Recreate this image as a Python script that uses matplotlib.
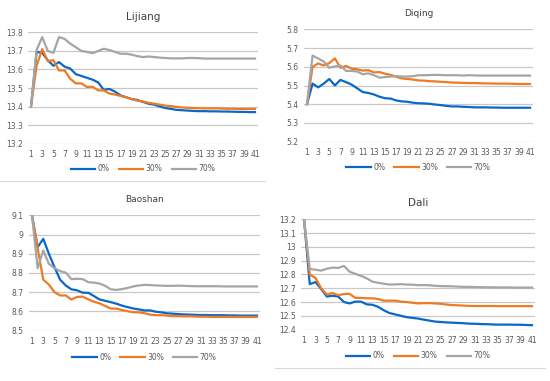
import numpy as np
import matplotlib
matplotlib.use('Agg')
import matplotlib.pyplot as plt
from matplotlib.lines import Line2D

x = np.arange(1, 42)
labels = ['0%', '30%', '70%']
colors = ['#0A68C8', '#F07A22', '#A5A5A5']

# Lijiang
lij_0 = [13.40, 13.695, 13.69, 13.65, 13.62, 13.64, 13.615, 13.605, 13.575, 13.565,
         13.555, 13.545, 13.53, 13.49, 13.495, 13.48, 13.46, 13.45, 13.44, 13.435,
         13.425, 13.415, 13.41, 13.40, 13.392, 13.387, 13.382, 13.38, 13.378, 13.376,
         13.375, 13.375, 13.374, 13.374, 13.373, 13.373, 13.372, 13.371, 13.371, 13.370, 13.370]
lij_30 = [13.40, 13.62, 13.71, 13.645, 13.65, 13.595, 13.595, 13.55, 13.525, 13.525,
          13.505, 13.507, 13.487, 13.487, 13.47, 13.465, 13.457, 13.45, 13.44, 13.432,
          13.427, 13.42, 13.415, 13.41, 13.405, 13.402, 13.398, 13.395, 13.393, 13.392,
          13.391, 13.390, 13.390, 13.390, 13.389, 13.388, 13.388, 13.387, 13.387, 13.387, 13.387]
lij_70 = [13.40, 13.705, 13.775, 13.70, 13.69, 13.775, 13.765, 13.74, 13.72, 13.70,
          13.695, 13.688, 13.70, 13.712, 13.705, 13.695, 13.685, 13.685, 13.68, 13.672,
          13.667, 13.67, 13.667, 13.664, 13.662, 13.66, 13.66, 13.66, 13.662, 13.662,
          13.661, 13.659, 13.659, 13.659, 13.659, 13.659, 13.659, 13.659, 13.659, 13.659, 13.659]

# Diqing
diq_0 = [5.40, 5.51, 5.49, 5.51, 5.535, 5.50, 5.53, 5.518, 5.505, 5.485,
         5.465, 5.46, 5.452, 5.44, 5.432, 5.43, 5.42, 5.415, 5.413, 5.408,
         5.405, 5.404, 5.402, 5.398, 5.395, 5.391, 5.388, 5.388, 5.386, 5.385,
         5.383, 5.383, 5.383, 5.382, 5.382, 5.381, 5.381, 5.381, 5.381, 5.381, 5.381]
diq_30 = [5.40, 5.60, 5.618, 5.607, 5.62, 5.645, 5.595, 5.605, 5.59, 5.587,
          5.58, 5.582, 5.57, 5.572, 5.563, 5.557, 5.547, 5.538, 5.535, 5.532,
          5.527, 5.526, 5.523, 5.522, 5.52, 5.518, 5.516, 5.515, 5.514, 5.513,
          5.513, 5.512, 5.511, 5.511, 5.510, 5.510, 5.510, 5.509, 5.508, 5.508, 5.508]
diq_70 = [5.40, 5.66, 5.645, 5.628, 5.595, 5.602, 5.607, 5.578, 5.578, 5.575,
          5.56, 5.565, 5.555, 5.542, 5.545, 5.548, 5.55, 5.548, 5.548, 5.55,
          5.555, 5.555, 5.556, 5.557, 5.556, 5.555, 5.555, 5.555, 5.553, 5.555,
          5.554, 5.553, 5.553, 5.553, 5.553, 5.553, 5.553, 5.553, 5.553, 5.553, 5.553]

# Baoshan
bao_0 = [9.10, 8.935, 8.978, 8.90, 8.83, 8.765, 8.735, 8.715, 8.71, 8.697,
         8.697, 8.68, 8.662, 8.655, 8.648, 8.64, 8.63, 8.622, 8.615, 8.61,
         8.605, 8.605, 8.598, 8.595, 8.59, 8.588, 8.586, 8.584, 8.583, 8.582,
         8.581, 8.581, 8.580, 8.580, 8.580, 8.579, 8.579, 8.578, 8.578, 8.578, 8.578]
bao_30 = [9.10, 8.93, 8.765, 8.74, 8.70, 8.683, 8.683, 8.662, 8.675, 8.677,
          8.663, 8.65, 8.642, 8.628, 8.615, 8.614, 8.607, 8.601, 8.595, 8.595,
          8.59, 8.583, 8.58, 8.58, 8.578, 8.575, 8.575, 8.574, 8.574, 8.573,
          8.572, 8.572, 8.571, 8.571, 8.571, 8.571, 8.571, 8.571, 8.571, 8.571, 8.571]
bao_70 = [9.10, 8.825, 8.918, 8.848, 8.825, 8.81, 8.802, 8.768, 8.77, 8.768,
          8.752, 8.75, 8.745, 8.733, 8.715, 8.712, 8.716, 8.722, 8.73, 8.735,
          8.738, 8.737, 8.735, 8.734, 8.733, 8.733, 8.734, 8.733, 8.732, 8.731,
          8.731, 8.731, 8.731, 8.731, 8.730, 8.730, 8.730, 8.730, 8.730, 8.730, 8.730]

# Dali
dal_0 = [13.20, 12.73, 12.745, 12.695, 12.64, 12.645, 12.64, 12.60, 12.59, 12.603,
         12.603, 12.583, 12.58, 12.565, 12.54, 12.52, 12.51, 12.50, 12.49, 12.485,
         12.48, 12.472, 12.465, 12.458, 12.455, 12.452, 12.45, 12.448, 12.446, 12.443,
         12.442, 12.44, 12.439, 12.437, 12.436, 12.436, 12.436, 12.435, 12.435, 12.433, 12.432]
dal_30 = [13.20, 12.80, 12.775, 12.70, 12.655, 12.665, 12.65, 12.658, 12.66, 12.63,
          12.63, 12.627, 12.627, 12.622, 12.61, 12.61, 12.61, 12.603, 12.60, 12.595,
          12.59, 12.592, 12.592, 12.59, 12.587, 12.582, 12.578, 12.576, 12.574, 12.572,
          12.571, 12.571, 12.571, 12.571, 12.570, 12.570, 12.570, 12.570, 12.570, 12.570, 12.570]
dal_70 = [13.20, 12.84, 12.835, 12.828, 12.842, 12.85, 12.848, 12.862, 12.82, 12.805,
          12.79, 12.772, 12.748, 12.74, 12.733, 12.727, 12.728, 12.73, 12.727, 12.726,
          12.723, 12.723, 12.722, 12.718, 12.716, 12.715, 12.714, 12.712, 12.71, 12.71,
          12.709, 12.708, 12.707, 12.707, 12.706, 12.706, 12.706, 12.705, 12.705, 12.705, 12.705]

W, H = 550, 381
fig = plt.figure(figsize=(W / 100, H / 100), dpi=100)

# name, series, ymin, ymax, ytick labels, pixel box (x0.5, x41.5, ytop, ybottom), title size, legend y
panels = [
    ('Lijiang', [lij_0, lij_30, lij_70], 13.2, 13.8,
     ['13.2', '13.3', '13.4', '13.5', '13.6', '13.7', '13.8'], (28.2, 257.8, 32, 144), 7.5, 169),
    ('Diqing', [diq_0, diq_30, diq_70], 5.2, 5.8,
     ['5.2', '5.3', '5.4', '5.5', '5.6', '5.7', '5.8'], (304.2, 532.8, 29, 142), 6.5, 167),
    ('Baoshan', [bao_0, bao_30, bao_70], 8.5, 9.1,
     ['8.5', '8.6', '8.7', '8.8', '8.9', '9', '9.1'], (29.2, 259.8, 215, 331), 6.5, 357),
    ('Dali', [dal_0, dal_30, dal_70], 12.4, 13.2,
     ['12.4', '12.5', '12.6', '12.7', '12.8', '12.9', '13', '13.1', '13.2'], (301.2, 534.8, 219, 330), 7.5, 356),
]

for name, series, ymin, ymax, ylabs, box, tsize, legy in panels:
    x0, x1, yt, yb = box
    ax = fig.add_axes([x0 / W, 1 - yb / H, (x1 - x0) / W, (yb - yt) / H])
    yt_vals = np.linspace(ymin, ymax, len(ylabs))
    for s, c, lab in zip(series, colors, labels):
        ax.plot(x, s, color=c, lw=1.6, label=lab, zorder=3)
    ax.set_xlim(0.5, 41.5)
    ax.set_ylim(ymin - 0.004 * (ymax - ymin), ymax + 0.004 * (ymax - ymin))
    ax.set_yticks(yt_vals)
    ax.set_yticklabels(ylabs)
    ax.set_xticks(np.arange(1, 42, 2))
    for sp in ax.spines.values():
        sp.set_visible(False)
    ax.tick_params(length=0, labelsize=5.5, colors='#595959', pad=4)
    ax.yaxis.grid(True, color='#C8C8C8', linewidth=0.9)
    ax.set_axisbelow(True)
    ax.set_title(name, fontsize=tsize, color='#404040', pad=9)
    ax.legend(loc='center', bbox_to_anchor=((x0 + x1) / 2 / W, 1 - legy / H),
              bbox_transform=fig.transFigure, ncol=3, frameon=False, fontsize=5.5,
              handlelength=3.2, handletextpad=0.3, columnspacing=1.2,
              labelcolor='#595959')

fig.add_artist(Line2D([0, 265 / W], [1 - 181 / H, 1 - 181 / H], color='#D9D9D9', lw=0.8))
fig.add_artist(Line2D([275 / W, 545 / W], [1 - 368 / H, 1 - 368 / H], color='#D9D9D9', lw=0.8))

fig.savefig('out.png', dpi=100)
